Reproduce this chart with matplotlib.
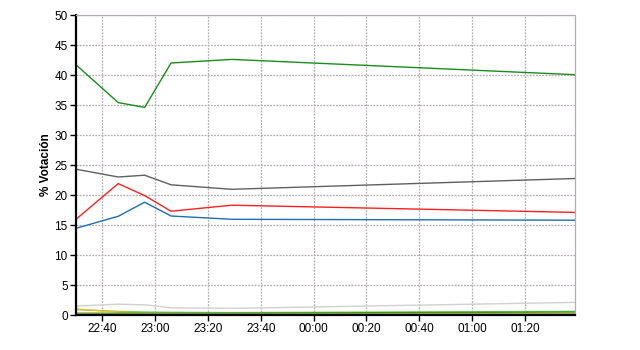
import pandas as pd
import matplotlib
matplotlib.use("Agg")
from matplotlib import pyplot as plt
import matplotlib.dates as mdates

# Hora de cada recuento (noche electoral)
times = pd.to_datetime([
    "2000-01-01 22:30", "2000-01-01 22:46", "2000-01-01 22:56",
    "2000-01-01 23:06", "2000-01-01 23:29", "2000-01-02 01:39",
])

# % de votacion por candidatura
green = [41.7, 35.4, 34.6, 42.0, 42.6, 40.05]
gray = [24.3, 23.0, 23.3, 21.7, 20.95, 22.75]
red = [15.95, 21.9, 19.9, 17.3, 18.3, 17.1]
blue = [14.45, 16.45, 18.8, 16.5, 15.95, 15.8]
light_gray = [1.5, 1.8, 1.7, 1.2, 1.1, 2.1]
yellow = [1.0, 0.5, 0.35, 0.3, 0.25, 0.25]
light_green = [0.9, 0.6, 0.5, 0.45, 0.4, 0.6]
dark_green = [0.3, 0.3, 0.3, 0.3, 0.3, 0.5]
cyan = [0.1, 0.1, 0.15, 0.15, 0.1, 0.1]
orange = [0.15, 0.1, 0.1, 0.1, 0.1, 0.1]

plt.rcParams['font.family'] = ['Liberation Sans', 'DejaVu Sans']

fig = plt.figure(figsize=(6.4, 3.5), dpi=100)
ax = fig.add_axes([76 / 640, 35 / 350, 499 / 640, 300 / 350])

#Series, de abajo hacia arriba
ax.plot(times, light_gray, color="#d0d0d0", lw=1)
ax.plot(times, light_green, color="#77cc55", lw=1)
ax.plot(times, yellow, color="#e8c020", lw=1)
ax.plot(times, dark_green, color="#339933", lw=1)
ax.plot(times, cyan, color="#22bbcc", lw=1)
ax.plot(times, orange, color="#ff8800", lw=1)
ax.plot(times, blue, color="#1f6db5", lw=1)
ax.plot(times, red, color="#ff2020", lw=1)
ax.plot(times, gray, color="#606060", lw=1)
ax.plot(times, green, color="#1a8c1a", lw=1)

ax.set_xlim(times[0], times[-1])
ax.set_ylim(0, 50)
ax.set_yticks(range(0, 51, 5))
ax.xaxis.set_major_locator(mdates.MinuteLocator(byminute=[0, 20, 40]))
ax.xaxis.set_major_formatter(mdates.DateFormatter("%H:%M"))

ax.grid(True, color="#b4acb4", linestyle=(0, (1.5, 1)), lw=0.9)
ax.set_axisbelow(True)

for side in ["top", "right"]:
    ax.spines[side].set_color("#b4acb4")
    ax.spines[side].set_linestyle((0, (1.5, 1)))
    ax.spines[side].set_linewidth(0.9)
for side in ["left", "bottom"]:
    ax.spines[side].set_color("black")
    ax.spines[side].set_linewidth(1.6)

ax.tick_params(axis="both", length=4, width=1, color="black", labelsize=8.5, pad=2)
ax.set_ylabel("% Votación", fontsize=8.5, fontweight="bold", labelpad=2)

fig.savefig("out.png", dpi=100)
